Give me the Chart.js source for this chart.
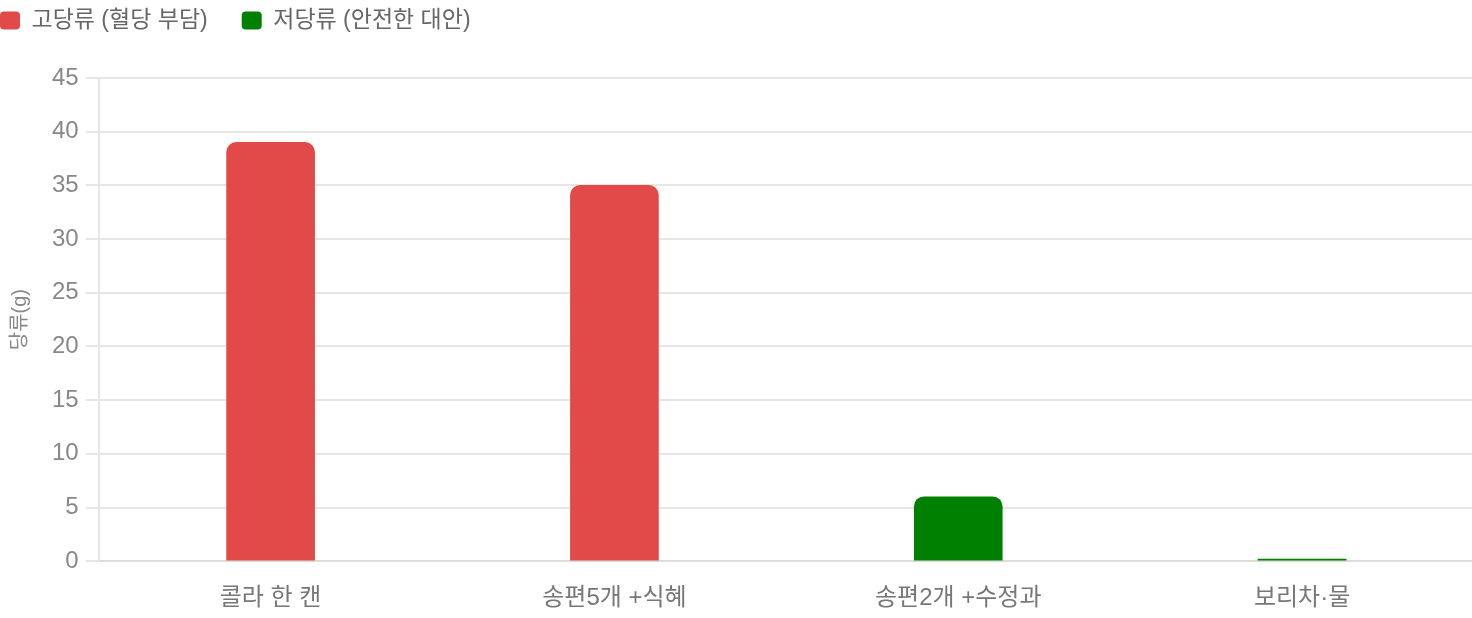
<!DOCTYPE html>
<html lang="ko">
<head>
<meta charset="utf-8">
<title>당류 비교</title>
<script src="https://cdn.jsdelivr.net/npm/chart.js@4.4.1/dist/chart.umd.min.js"></script>
<style>
  html, body { margin: 0; padding: 0; background: #fff; }
  #frame { position: relative; width: 1472px; height: 618px; overflow: hidden; }
  #wrap { position: absolute; left: -34px; top: -25px; width: 1508px; height: 669px; }
</style>
</head>
<body>
<div id="frame"><div id="wrap"><canvas id="sugarChart"></canvas></div></div>
<script>
  // 추석 음식 당류 비교 (g)
  var categories = ['콜라 한 캔', '송편5개 +식혜', '송편2개 +수정과', '보리차·물'];
  var highSugar  = [39, 35, null, null];
  var lowSugar   = [null, null, 6, 0];
  var yTicks     = [0, 5, 10, 15, 20, 25, 30, 35, 40, 45];

  var fontFamily = "'Liberation Sans', Arial, 'Noto Sans CJK KR', sans-serif";
  Chart.defaults.font.family = fontFamily;
  Chart.defaults.color = '#777';

  // push the plot down below the legend
  var legendGap = {
    id: 'legendGap',
    beforeInit: function(chart) {
      var fit = chart.legend.fit;
      chart.legend.fit = function() {
        fit.bind(chart.legend)();
        this.height += 36;
      };
    }
  };

  var ctx = document.getElementById('sugarChart').getContext('2d');
  var chart = new Chart(ctx, {
    type: 'bar',
    data: {
      labels: categories,
      datasets: [{
        label: '고당류 (혈당 부담)',
        data: highSugar,
        backgroundColor: '#e24a4a',
        borderRadius: 10,
        barThickness: 88,
        skipNull: true
      }, {
        label: '저당류 (안전한 대안)',
        data: lowSugar,
        backgroundColor: '#008000',
        borderRadius: 10,
        barThickness: 88,
        minBarLength: 2,
        skipNull: true
      }]
    },
    options: {
      responsive: true,
      maintainAspectRatio: false,
      animation: false,
      layout: { padding: { bottom: 8, right: 0 } },
      plugins: {
        legend: {
          align: 'start',
          labels: {
            padding: 34,
            boxWidth: 20,
            boxHeight: 18,
            useBorderRadius: true,
            borderRadius: 4,
            color: '#666',
            font: { size: 23 }
          }
        },
        tooltip: { enabled: false }
      },
      scales: {
        x: {
          grid: { display: false, drawTicks: false },
          border: { display: true, color: '#dcdcd8', width: 2 },
          ticks: { padding: 23, color: '#777', font: { size: 24 } }
        },
        y: {
          min: 0,
          max: 45,
          afterBuildTicks: function(scale) {
            scale.ticks = yTicks.map(function(v) { return { value: v }; });
          },
          grid: { color: '#e6e6e3', lineWidth: 2, tickLength: 13 },
          border: { display: true, color: '#e6e6e3', width: 2 },
          ticks: { padding: 7, color: '#888', font: { size: 24 } },
          title: {
            display: true,
            text: '당류(g)',
            color: '#888',
            font: { size: 20 },
            padding: { top: 42, bottom: 13 }
          }
        }
      }
    },
    plugins: [legendGap]
  });
</script>
</body>
</html>
